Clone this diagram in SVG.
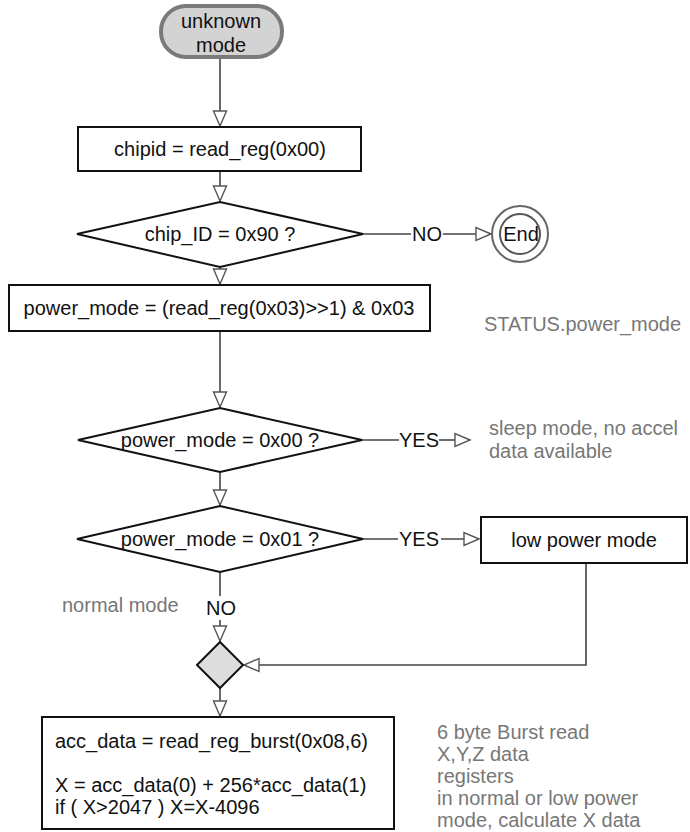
<svg xmlns="http://www.w3.org/2000/svg" width="690" height="832" viewBox="0 0 690 832">
<style>
.t{font-family:"Liberation Sans",Arial,sans-serif;font-size:20px;fill:#111}
.c{text-anchor:middle}
.g{font-family:"Liberation Sans",Arial,sans-serif;font-size:20px;fill:#777}
.s{fill:#fff;stroke:#111;stroke-width:2}
.ln{fill:none;stroke:#444;stroke-width:1.6}
</style>
<defs>
<marker id="ah" markerUnits="userSpaceOnUse" markerWidth="18" markerHeight="16" viewBox="-16 -8 18 16" refX="0" refY="0" orient="auto">
<path d="M0,0 L-15,-6.5 L-15,6.5 Z" fill="#fff" stroke="#555" stroke-width="1.4"/>
</marker>
</defs>
<rect width="690" height="832" fill="#fff"/>
<g id="connectors">
<path class="ln" d="M220,57 L220,126" marker-end="url(#ah)"/>
<path class="ln" d="M220,171 L220,201" marker-end="url(#ah)"/>
<path class="ln" d="M363,234 L411,234"/>
<path class="ln" d="M443,234 L491,234" marker-end="url(#ah)"/>
<path class="ln" d="M220,267 L220,284" marker-end="url(#ah)"/>
<path class="ln" d="M220,331 L220,407" marker-end="url(#ah)"/>
<path class="ln" d="M362,440 L399,440"/>
<path class="ln" d="M439,440 L470,440" marker-end="url(#ah)"/>
<path class="ln" d="M220,472 L220,505" marker-end="url(#ah)"/>
<path class="ln" d="M363,539 L398,539"/>
<path class="ln" d="M441,539 L479,539" marker-end="url(#ah)"/>
<path class="ln" d="M220,572 L220,596"/>
<path class="ln" d="M220,620 L220,641" marker-end="url(#ah)"/>
<path class="ln" d="M586,563 L586,665 L244,665" marker-end="url(#ah)"/>
<path class="ln" d="M220,688 L220,716" marker-end="url(#ah)"/>
<text class="t c" x="427" y="241">NO</text>
<text class="t c" x="419" y="447">YES</text>
<text class="t c" x="419" y="546">YES</text>
<text class="t c" x="221" y="615">NO</text>
</g>
<g id="start">
<rect x="161" y="6" width="121" height="51" rx="25" fill="#d3d3d3" stroke="#7a7a7a" stroke-width="4"/>
<text class="t c" x="221" y="28">unknown</text>
<text class="t c" x="221" y="52">mode</text>
</g>
<g id="chipid">
<rect class="s" x="78" y="127" width="283" height="44"/>
<text class="t c" x="220" y="156">chipid = read_reg(0x00)</text>
</g>
<g id="check_id">
<polygon class="s" points="77,234 220,202 363,234 220,267"/>
<text class="t c" x="220" y="241">chip_ID = 0x90 ?</text>
</g>
<g id="end">
<circle cx="520" cy="234" r="28" fill="#fff" stroke="#666" stroke-width="2"/>
<circle cx="520" cy="234" r="20" fill="#fff" stroke="#555" stroke-width="2"/>
<text class="t c" x="521" y="241">End</text>
</g>
<g id="power_mode">
<rect class="s" x="9" y="285" width="421" height="46"/>
<text class="t c" x="219" y="315">power_mode = (read_reg(0x03)&gt;&gt;1) &amp; 0x03</text>
</g>
<g id="status_note">
<text class="g" x="484" y="331">STATUS.power_mode</text>
</g>
<g id="check_sleep">
<polygon class="s" points="78,440 220,408 362,440 220,472"/>
<text class="t c" x="220" y="447">power_mode = 0x00 ?</text>
</g>
<g id="sleep_note">
<text class="g" x="489" y="435">sleep mode, no accel</text>
<text class="g" x="489" y="458">data available</text>
</g>
<g id="check_low">
<polygon class="s" points="77,539 220,506 363,539 220,572"/>
<text class="t c" x="220" y="546">power_mode = 0x01 ?</text>
</g>
<g id="low_power">
<rect class="s" x="481" y="517" width="206" height="46"/>
<text class="t c" x="584" y="547">low power mode</text>
</g>
<g id="normal_note">
<text class="g" x="62" y="612">normal mode</text>
</g>
<g id="merge">
<polygon points="197,665 220,642 243,665 220,688" fill="#ddd" stroke="#111" stroke-width="2"/>
</g>
<g id="read_data">
<rect class="s" x="42" y="717" width="352" height="112"/>
<text class="t" x="55" y="748">acc_data = read_reg_burst(0x08,6)</text>
<text class="t" x="55" y="792">X = acc_data(0) + 256*acc_data(1)</text>
<text class="t" x="55" y="814">if ( X&gt;2047 ) X=X-4096</text>
</g>
<g id="burst_note">
<text class="g" x="437" y="739">6 byte Burst read</text>
<text class="g" x="437" y="761">X,Y,Z data</text>
<text class="g" x="437" y="783">registers</text>
<text class="g" x="437" y="805">in normal or low power</text>
<text class="g" x="437" y="827">mode, calculate X data</text>
</g>
</svg>
